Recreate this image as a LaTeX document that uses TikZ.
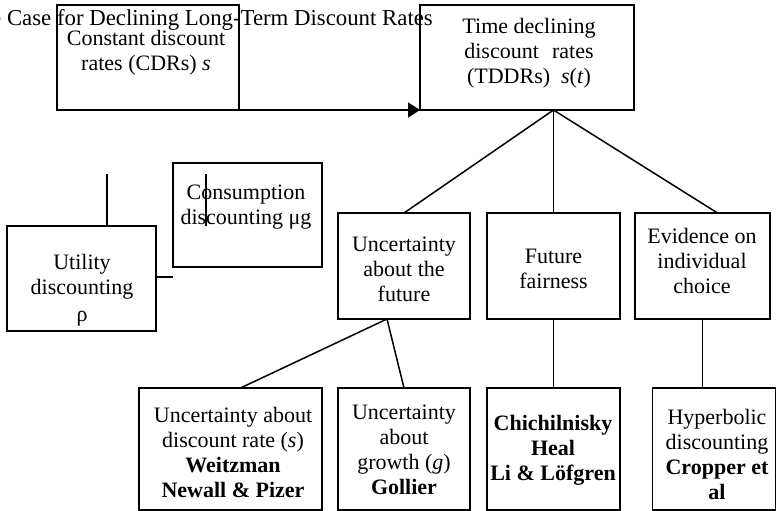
\documentclass[tikz,border=0pt]{standalone}
\usepackage{fontspec}
\setmainfont{Liberation Serif}
\usetikzlibrary{arrows.meta,calc}
\begin{document}
\begin{tikzpicture}[x=1pt,y=-1pt,
  box/.style={draw, line width=1.5pt, inner sep=0pt, outer sep=0pt},
  lbl/.style={font=\fontsize{22}{25}\selectfont, align=center, inner sep=0pt},
  conn/.style={line width=1.5pt}]
\useasboundingbox (0,0) rectangle (777,511);

% title
\node[lbl, font=\fontsize{22.8}{25}\selectfont, anchor=base east] (title) at (433,26) {The Case for Declining Long-Term Discount Rates};

% boxes
\node[box, minimum width=182pt, minimum height=105pt] (cdr) at (148,57.5) {};
\node[box, minimum width=214pt, minimum height=105pt] (tddr) at (527,57.5) {};
\node[box, minimum width=149pt, minimum height=104pt] (cons) at (247.5,215) {};
\node[box, minimum width=149pt, minimum height=105pt] (ut) at (81.5,278.5) {};
\node[box, minimum width=132pt, minimum height=106pt] (uf) at (404,266) {};
\node[box, minimum width=133pt, minimum height=106pt] (ff) at (553.5,266) {};
\node[box, minimum width=135pt, minimum height=106pt] (ev) at (702.5,266) {};
\node[box, minimum width=183pt, minimum height=122pt] (b1) at (230.5,449) {};
\node[box, minimum width=132pt, minimum height=122pt] (b2) at (404,449) {};
\node[box, minimum width=133pt, minimum height=122pt] (b3) at (553.5,449) {};
\node[box, minimum width=123pt, minimum height=122pt] (b4) at (714,449) {};

% texts
\node[lbl] (cdr-t) at (146,52.5) {Constant discount\\rates (CDRs) \textit{s}};
\node[lbl] (tddr-t) at (529,53) {Time declining\\discount\hspace{0.6em}rates\\(TDDRs)\hspace{0.5em}\textit{s}(\textit{t})};
\node[lbl] (cons-t) at (246,207) {Consumption\\discounting μg};
\node[lbl] (ut-t) at (82,290) {Utility\\discounting\\[2pt]ρ};
\node[lbl] (uf-t) at (404,269) {Uncertainty\\about the\\future};
\node[lbl] (ff-t) at (553.5,268.5) {Future\\fairness};
\node[lbl] (ev-t) at (702,261) {Evidence on\\individual\\choice};
\node[lbl] (b1-t) at (233,452) {Uncertainty about\\discount rate (\textit{s})\\\textbf{Weitzman}\\\textbf{Newall \& Pizer}};
\node[lbl] (b2-t) at (404,450) {Uncertainty\\about\\growth (\textit{g})\\\textbf{Gollier}};
\node[lbl] (b3-t) at (553,450) {\textbf{Chichilnisky}\\\textbf{Heal}\\\textbf{Li \& Löfgren}};
\node[lbl] (b4-t) at (717,454) {Hyperbolic\\discounting\\\textbf{Cropper et}\\\textbf{al}};

% free ends
\coordinate (utTop) at (107,174);
\coordinate (utStub) at (173,277);
\coordinate (consA) at (206,174);
\coordinate (consB) at (206,226);

% connectors
\draw[conn, -{Triangle[length=12pt,width=15pt]}] (cdr.south east) -- (tddr.south west);
\coordinate (apex) at (tddr.south -| ff.north);
\draw[conn] (apex) -- (uf.north);
\draw[conn] (apex) -- (ff.north);
\draw[conn] (apex) -- ($(ev.north)+(15,0)$);
\coordinate (ufapex) at ($(uf.south)+(-17,0)$);
\draw[conn] (ufapex) -- ($(b1.north)+(10,0)$);
\draw[conn] (ufapex) -- (b2.north);
\draw[conn] (ff.south) -- (b3.north);
\draw[conn] (ev.south) -- (ev.south |- b4.north);
\draw[conn] (ut.north -| utTop) -- (utTop);
\draw[conn] (ut.east |- utStub) -- (utStub);
\draw[conn] (consA) -- (consB);
\end{tikzpicture}
\end{document}
